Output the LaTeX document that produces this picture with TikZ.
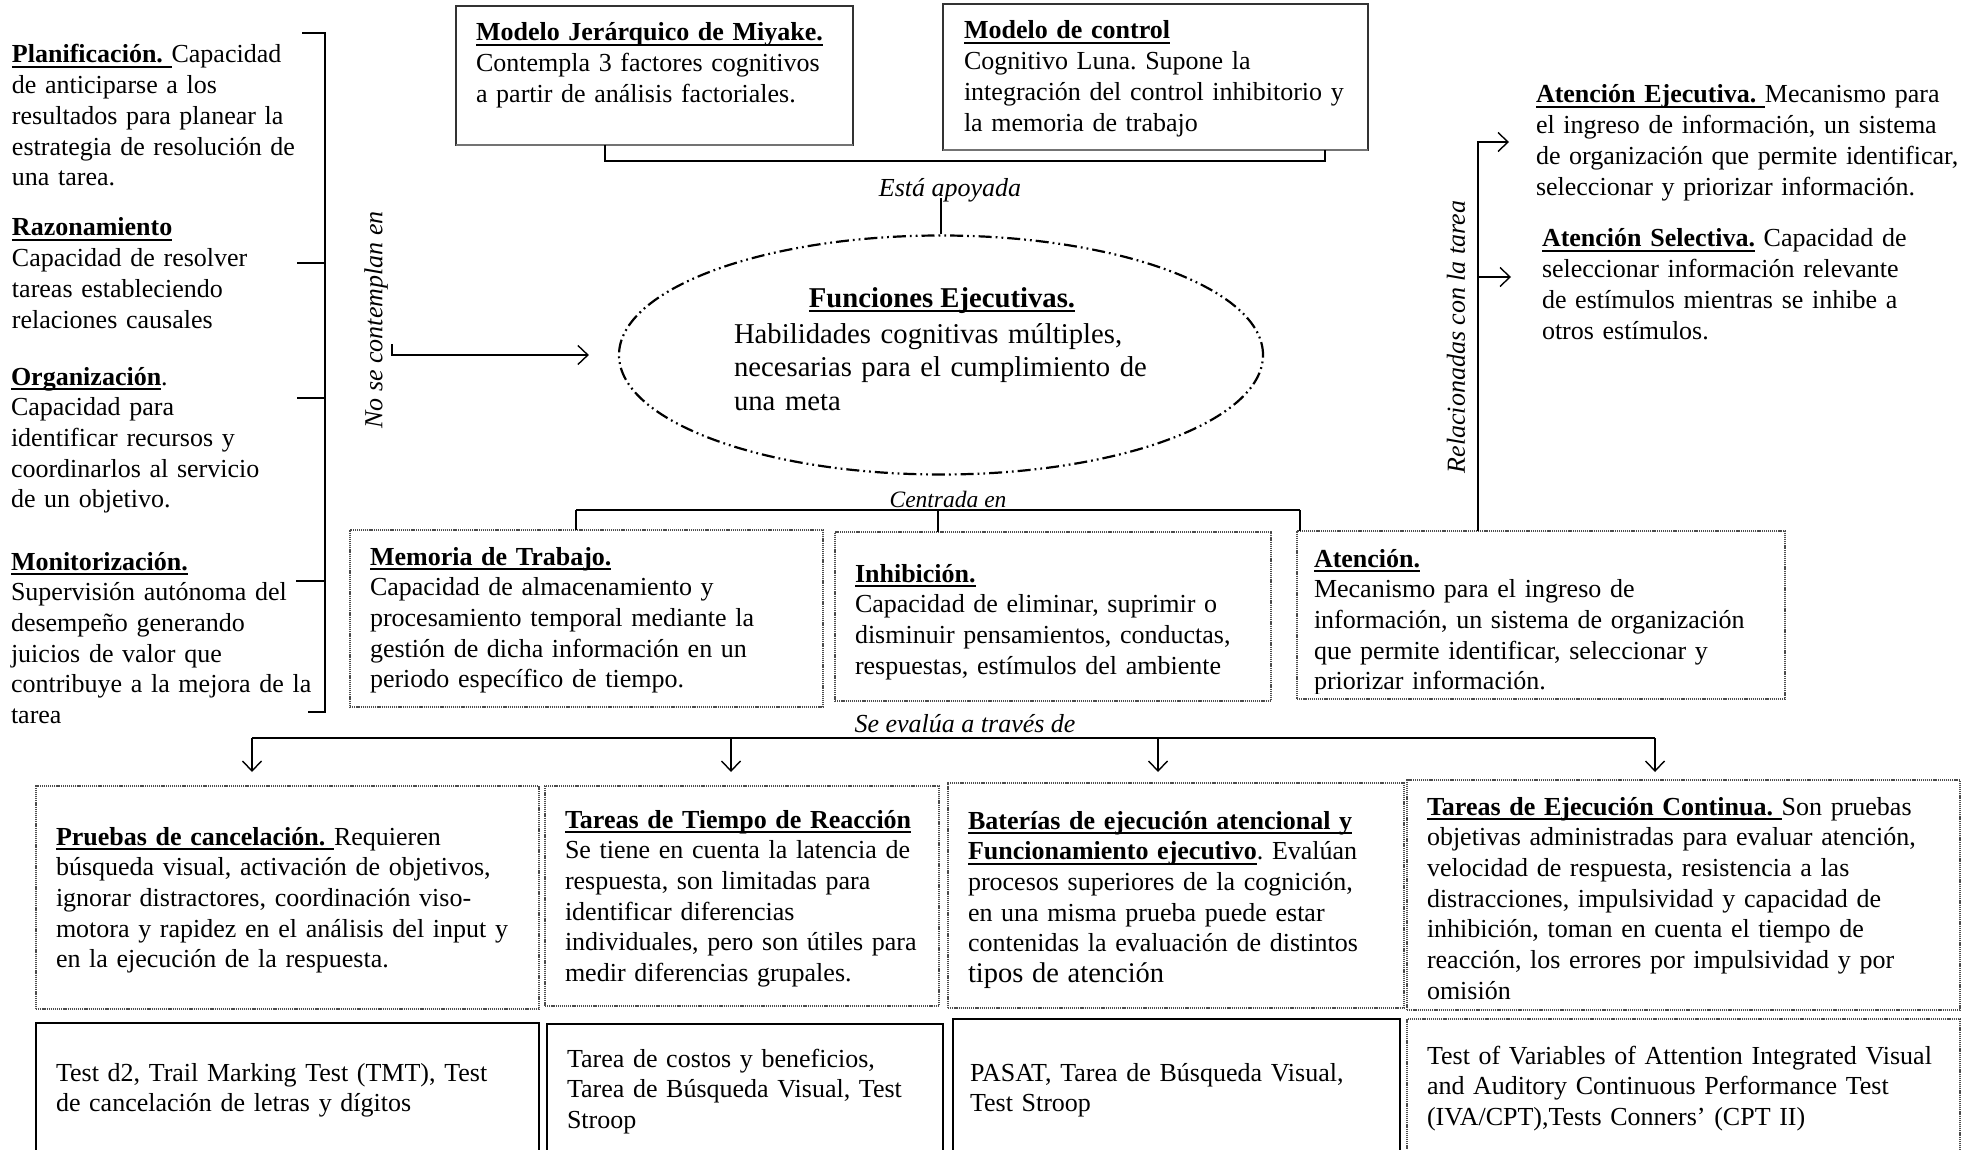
\documentclass[tikz,border=0pt]{standalone}
\usepackage{fontspec}
\setmainfont{Liberation Serif}
\usetikzlibrary{shapes.geometric,arrows.meta,calc}
\newcommand\myul[1]{\leavevmode\setbox0=\hbox{#1}\rlap{\rule[-5pt]{\wd0}{2.2pt}}\box0\relax}
\frenchspacing
\begin{document}
\frenchspacing
\begin{tikzpicture}[x=1pt,y=-1pt,
  txt/.style={anchor=base west, inner sep=0pt, outer sep=0pt, text width=620pt, align=left, font=\fontsize{26}{30.7}\selectfont\frenchspacing},
  lbl/.style={inner sep=0pt, font=\fontsize{26}{30.7}\selectfont\itshape},
  sbox/.style={draw, line width=1.2pt, inner sep=0pt, outer sep=0pt, anchor=north west},
  dbox/.style={draw=black!70, dash pattern=on 1.2pt off 0.9pt, line width=1.1pt, inner sep=0pt, outer sep=0pt, anchor=north west},
  conn/.style={line width=1.4pt},
  arr/.style={line width=1.4pt, -{Straight Barb[length=10pt,width=19pt,line width=1.4pt]}}]
\useasboundingbox (0,0) rectangle (1975,1150);
\fill[white] (0,0) rectangle (1975,1150);

% ---------- left column ----------
\node[txt] (plan) at (12,63) {\myul{\textbf{Planificación.}\ }Capacidad\\de anticiparse a los\\resultados para planear la\\estrategia de resolución de\\una tarea.};
\node[txt] (razo) at (12,236) {\myul{\textbf{Razonamiento}}\\Capacidad de resolver\\tareas estableciendo\\relaciones causales};
\node[txt] (orga) at (11,385) {\myul{\textbf{Organización}}.\\Capacidad para\\identificar recursos y\\coordinarlos al servicio\\de un objetivo.};
\node[txt] (moni) at (11,570) {\myul{\textbf{Monitorización.}}\\Supervisión autónoma del\\desempeño generando\\juicios de valor que\\contribuye a la mejora de la\\tarea};

\coordinate (brT) at (325,33);
\coordinate (brB) at (325,712);
\draw[conn] (302,33) -- (brT) -- (brB) -- (308,712);
\draw[conn] (297,263) -- (325,263);
\draw[conn] (297,398) -- (325,398);
\draw[conn] (296,581) -- (325,581);

% ---------- top boxes ----------
\node[sbox, draw=black!80, minimum width=397pt, minimum height=139pt] (miy) at (456,6) {};
\draw[black!55, line width=2.2pt] (miy.south west) -- (miy.south east);
\node[txt] (miyt) at (476,41) {\myul{\textbf{Modelo Jerárquico de Miyake.}}\\Contempla 3 factores cognitivos\\a partir de análisis factoriales.};
\node[sbox, draw=black!80, minimum width=425pt, minimum height=146pt] (ctl) at (943,4) {};
\draw[black!55, line width=2.2pt] (ctl.south west) -- (ctl.south east);
\node[txt] (ctlt) at (964,39) {\myul{\textbf{Modelo de control}}\\Cognitivo Luna. Supone la\\integración del control inhibitorio y\\la memoria de trabajo};

\coordinate (apL) at (605,161);
\coordinate (apR) at (1325,161);
\draw[conn] (miy.south -| apL) -- (apL) -- (apR) -- (ctl.south -| apR);
\node[lbl] (apoy) at (950,190) {Está apoyada};

% ---------- ellipse ----------
\node[ellipse, draw, line width=2.2pt, dash pattern=on 13pt off 4pt on 1.8pt off 4pt on 1.8pt off 4pt,
      minimum width=644pt, minimum height=239pt, inner sep=0pt] (fe) at (941,355) {};
\draw[conn] (apoy.south -| fe.north) ++(0,-4) -- (fe.north);
\node[anchor=base, inner sep=0pt, font=\fontsize{28.7}{33.5}\selectfont] (fet) at (942,307) {\myul{\textbf{Funciones Ejecutivas.}}};
\node[txt, font=\fontsize{28.7}{33.5}\selectfont] (feb) at (734,343) {Habilidades cognitivas múltiples,\\necesarias para el cumplimiento de\\una meta};

% ---------- no se contemplan ----------
\node[lbl, rotate=90] (nose) at (376,320) {No se contemplan en};
\coordinate (nsA) at (392,344);
\draw[arr] (nsA) |- ([xshift=-29pt]fe.west);

% ---------- middle boxes ----------
\node[dbox, minimum width=473pt, minimum height=177pt] (mem) at (350,530) {};
\node[txt] (memt) at (370,565) {\myul{\textbf{Memoria de Trabajo.}}\\Capacidad de almacenamiento y\\procesamiento temporal mediante la\\gestión de dicha información en un\\periodo específico de tiempo.};
\node[dbox, minimum width=436pt, minimum height=169pt] (inh) at (835,532) {};
\node[txt] (inht) at (855,582) {\myul{\textbf{Inhibición.}}\\Capacidad de eliminar, suprimir o\\disminuir pensamientos, conductas,\\respuestas, estímulos del ambiente};
\node[dbox, minimum width=488pt, minimum height=168pt] (ate) at (1297,531) {};
\begin{scope}
\clip (1297,531) rectangle (1785,693);
\node[txt] (atet) at (1314,567) {\myul{\textbf{Atención.}}\\Mecanismo para el ingreso de\\información, un sistema de organización\\que permite identificar, seleccionar y\\priorizar información.};
\end{scope}

\node[lbl, font=\fontsize{23.5}{28}\selectfont\itshape] (cent) at (948,499) {Centrada en};
\coordinate (ceL) at (576,510);
\coordinate (ceR) at (1300,510);
\coordinate (ceM) at (938,510);
\draw[line width=2pt] (ceL) -- (ceR);
\draw[conn] (ceL) -- (mem.north -| ceL);
\draw[conn] (ceR) -- (ate.north -| ceR);
\draw[conn] (ceM) -- (inh.north -| ceM);

% ---------- right side ----------
\coordinate (rl) at (1478,142);
\coordinate (aeT) at (1509,142);
\coordinate (asS) at (1479,277);
\coordinate (asT) at (1511,277);
\draw[arr] (ate.north -| rl) -- (rl) -- (aeT);
\draw[arr] (asS) -- (asT);
\node[lbl, rotate=90] (rela) at (1456,337) {Relacionadas con la tarea};
\node[txt] (aej) at (1536,103) {\myul{\textbf{Atención Ejecutiva.}\ }Mecanismo para\\el ingreso de información, un sistema\\de organización que permite identificar,\\seleccionar y priorizar información.};
\node[txt] (ase) at (1542,247) {\myul{\textbf{Atención Selectiva.}} Capacidad de\\seleccionar información relevante\\de estímulos mientras se inhibe a\\otros estímulos.};

% ---------- se evalua ----------
\node[lbl] (seva) at (965,724) {Se evalúa a través de};
\coordinate (s1) at (252,738);
\coordinate (s2) at (731,738);
\coordinate (s3) at (1158,738);
\coordinate (s4) at (1655,738);
\coordinate (tipy) at (0,772);
\draw[line width=1.8pt] (s1) -- (s4);
\draw[arr] (s1) -- (s1 |- tipy);
\draw[arr] (s2) -- (s2 |- tipy);
\draw[arr] (s3) -- (s3 |- tipy);
\draw[arr] (s4) -- (s4 |- tipy);

% ---------- bottom row 1 ----------
\node[dbox, minimum width=503pt, minimum height=223pt] (pA) at (36,786) {};
\node[txt] (pAt) at (56,845) {\myul{\textbf{Pruebas de cancelación.}\ }Requieren\\búsqueda visual, activación de objetivos,\\ignorar distractores, coordinación viso-\\motora y rapidez en el análisis del input y\\en la ejecución de la respuesta.};
\node[dbox, minimum width=394pt, minimum height=220pt] (pB) at (545,786) {};
\node[txt] (pBt) at (565,828) {\myul{\textbf{Tareas de Tiempo de Reacción}}\\Se tiene en cuenta la latencia de\\respuesta, son limitadas para\\identificar diferencias\\individuales, pero son útiles para\\medir diferencias grupales.};
\node[dbox, minimum width=456pt, minimum height=225pt] (pC) at (948,783) {};
\node[txt] (pCt) at (968,829) {\myul{\textbf{Baterías de ejecución atencional y}}\\\myul{\textbf{Funcionamiento ejecutivo}}. Evalúan\\procesos superiores de la cognición,\\en una misma prueba puede estar\\contenidas la evaluación de distintos\\{\fontsize{28.5}{30.7}\selectfont tipos de atención}};
\node[dbox, minimum width=553pt, minimum height=230pt] (pD) at (1407,780) {};
\node[txt] (pDt) at (1427,815) {\myul{\textbf{Tareas de Ejecución Continua.}\ }Son pruebas\\objetivas administradas para evaluar atención,\\velocidad de respuesta, resistencia a las\\distracciones, impulsividad y capacidad de\\inhibición, toman en cuenta el tiempo de\\reacción, los errores por impulsividad y por\\omisión};

% ---------- bottom row 2 ----------
\node[sbox, minimum width=503pt, minimum height=160pt] (qA) at (36,1023) {};
\node[txt] (qAt) at (56,1081) {Test d2, Trail Marking Test (TMT), Test\\de cancelación de letras y dígitos};
\node[sbox, minimum width=396pt, minimum height=160pt] (qB) at (547,1024) {};
\node[txt] (qBt) at (567,1067) {Tarea de costos y beneficios,\\Tarea de Búsqueda Visual, Test\\Stroop};
\node[sbox, minimum width=447pt, minimum height=160pt] (qC) at (953,1019) {};
\node[txt] (qCt) at (970,1081) {PASAT, Tarea de Búsqueda Visual,\\Test Stroop};
\node[dbox, minimum width=553pt, minimum height=160pt] (qD) at (1407,1019) {};
\node[txt] (qDt) at (1427,1064) {Test of Variables of Attention Integrated Visual\\and Auditory Continuous Performance Test\\(IVA/CPT),Tests Conners’ (CPT II)};
\end{tikzpicture}
\end{document}
